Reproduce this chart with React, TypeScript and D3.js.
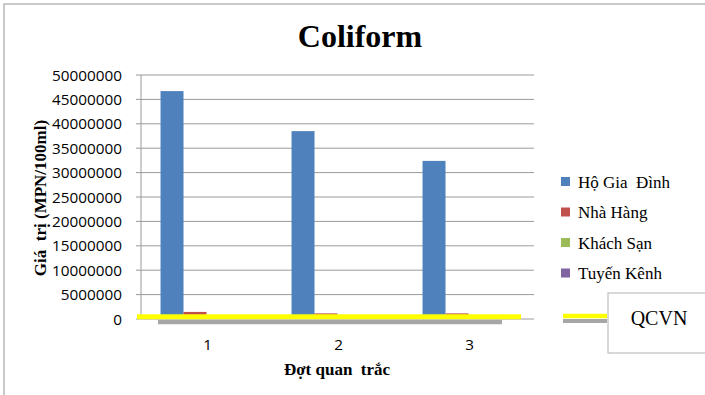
import React from "react";
import * as d3 from "d3";

const categories = ["1", "2", "3"];
const seriesNames = ["Hộ Gia  Đình", "Nhà Hàng", "Khách Sạn", "Tuyến Kênh"];
const hoGiaDinh = [46700000, 38500000, 32400000];
const nhaHang = [1450000, 1150000, 1150000];
const khachSan = [240000, 160000, 170000];
const tuyenKenh = [90000, 110000, 70000];
const qcvn = [5000, 5000, 5000];
const yTicks = [0, 5000000, 10000000, 15000000, 20000000, 25000000, 30000000, 35000000, 40000000, 45000000, 50000000];
const colors = ["#4F81BD", "#C0504D", "#9BBB59", "#8064A2"];

const W = 705;
const H = 395;
const plot = { left: 141, right: 534, top: 75, bottom: 319 };
const serif = "'Liberation Serif', 'Times New Roman', serif";
const sans = "'Open Sans', 'Liberation Sans', sans-serif";

export default function App() {
  const series = [hoGiaDinh, nhaHang, khachSan, tuyenKenh];
  const x = d3.scaleBand<string>().domain(categories).range([plot.left, plot.right]).paddingInner(0).paddingOuter(0);
  const inner = d3
    .scaleBand<number>()
    .domain(d3.range(series.length))
    .range([0, x.bandwidth()])
    .paddingOuter(0.85)
    .paddingInner(0);
  const y = d3.scaleLinear().domain([0, 50000000]).range([plot.bottom, plot.top]);

  const qY = y(qcvn[0]);
  const legendRows = seriesNames.map((n, i) => ({ n, i, cy: 181.5 + i * 30.5 }));

  return (
    <svg width={W} height={H} style={{ position: "absolute", left: 0, top: 0, background: "#fff" }}>
      <rect x={4} y={4} width={W + 20} height={H + 20} fill="#fff" stroke="#a6a6a6" strokeWidth={1.2} />

      <text x={360} y={47} textAnchor="middle" fontFamily={serif} fontWeight="bold" fontSize={32}>
        Coliform
      </text>

      {/* gridlines and value axis */}
      {yTicks.map((t) => (
        <g key={t}>
          <line x1={plot.left - 5} x2={plot.right} y1={y(t)} y2={y(t)} stroke="#9a9a9a" strokeWidth={1} />
          <text x={122} y={y(t)} dy="0.36em" textAnchor="end" fontFamily={sans} fontSize={15.3} fill="#000">
            {t}
          </text>
        </g>
      ))}
      <line x1={plot.left} x2={plot.left} y1={plot.top} y2={plot.bottom} stroke="#9a9a9a" strokeWidth={1} />

      {/* bars */}
      {categories.map((c, ci) => (
        <g key={c}>
          {series.map((s, si) => (
            <rect
              key={si}
              x={(x(c) as number) + (inner(si) as number)}
              y={y(s[ci])}
              width={inner.bandwidth()}
              height={plot.bottom - y(s[ci])}
              fill={colors[si]}
            />
          ))}
          <text
            x={(x(c) as number) + x.bandwidth() / 2 + 1}
            y={350}
            textAnchor="middle"
            fontFamily={sans}
            fontSize={15.3}
          >
            {c}
          </text>
        </g>
      ))}

      {/* QCVN limit line with its shadow */}
      <line x1={plot.left + 17} x2={plot.right - 32} y1={qY + 3} y2={qY + 3} stroke="#a6a6a6" strokeWidth={4.5} />
      <line x1={plot.left - 4} x2={plot.right - 13} y1={qY - 2.3} y2={qY - 2.3} stroke="#ffff00" strokeWidth={5} />

      {/* axis titles */}
      <text
        transform={`translate(46,${198}) rotate(-90)`}
        textAnchor="middle"
        fontFamily={serif}
        fontWeight="bold"
        fontSize={17}
        style={{ whiteSpace: "pre" }}
      >
        {"Giá  trị (MPN/100ml)"}
      </text>
      <text x={337} y={375} textAnchor="middle" fontFamily={serif} fontWeight="bold" fontSize={17} style={{ whiteSpace: "pre" }}>
        {"Đợt quan  trắc"}
      </text>

      {/* legend */}
      {legendRows.map((r) => (
        <g key={r.i}>
          <rect x={561} y={r.cy - 4.5} width={9} height={9} fill={colors[r.i]} />
          <text x={578} y={r.cy + 6} fontFamily={serif} fontSize={17} style={{ whiteSpace: "pre" }}>
            {r.n}
          </text>
        </g>
      ))}
      <line x1={563} x2={607} y1={321} y2={321} stroke="#a6a6a6" strokeWidth={4} />
      <line x1={563} x2={607} y1={316} y2={316} stroke="#ffff00" strokeWidth={4.5} />
      <rect x={608} y={293} width={120} height={60} fill="#fff" stroke="#bfbfbf" strokeWidth={1.2} />
      <text x={659} y={325} textAnchor="middle" fontFamily={serif} fontSize={20}>
        QCVN
      </text>
    </svg>
  );
}
